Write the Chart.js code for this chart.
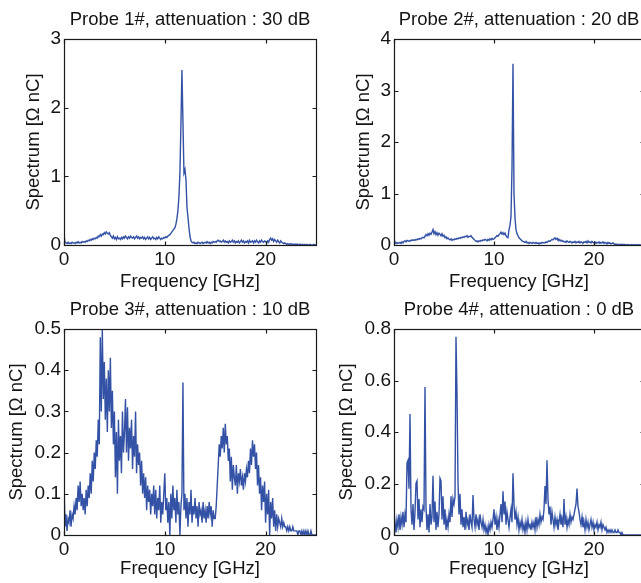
<!DOCTYPE html>
<html>
<head>
<meta charset="utf-8">
<script src="https://cdn.jsdelivr.net/npm/chart.js@4.4.1/dist/chart.umd.min.js"></script>
<style>
  html, body { margin: 0; padding: 0; background: #fff; overflow: hidden; width: 641px; height: 583px; }
  canvas { position: absolute; }
</style>
</head>
<body>
<canvas id="c1" width="325" height="300" style="left:0;top:0"></canvas>
<canvas id="c2" width="330" height="300" style="left:330px;top:0"></canvas>
<canvas id="c3" width="325" height="293" style="left:0;top:290px"></canvas>
<canvas id="c4" width="330" height="293" style="left:330px;top:290px"></canvas>
<script>
// frequency grid, GHz (0 to 25 in 0.1 steps)
const freq = Array.from({ length: 251 }, (_, i) => i / 10);

const titles = [
    'Probe 1#, attenuation : 30 dB',
    'Probe 2#, attenuation : 20 dB',
    'Probe 3#, attenuation : 10 dB',
    'Probe 4#, attenuation : 0 dB'
];

const xTicks = [0, 10, 20];
const xMax = 25;
const yTicks1 = [0, 1, 2, 3];
const yTicks2 = [0, 1, 2, 3, 4];
const yTicks3 = [0, 0.1, 0.2, 0.3, 0.4, 0.5];
const yTicks4 = [0, 0.2, 0.4, 0.6, 0.8];

// spectrum values, Ohm nC, one row per GHz
const probe1 = [
    0.15,0.04,0.03,0.02,0.04,0.02,0.03,0.02,0.04,0.03,
    0.03,0.02,0.04,0.03,0.05,0.03,0.04,0.03,0.05,0.04,
    0.05,0.04,0.06,0.05,0.07,0.06,0.08,0.07,0.09,0.08,
    0.10,0.09,0.11,0.10,0.13,0.12,0.15,0.13,0.16,0.15,
    0.18,0.16,0.19,0.17,0.16,0.18,0.14,0.12,0.10,0.13,
    0.09,0.11,0.08,0.12,0.09,0.10,0.08,0.11,0.09,0.12,
    0.10,0.13,0.11,0.09,0.12,0.10,0.13,0.11,0.10,0.12,
    0.09,0.11,0.13,0.10,0.12,0.09,0.11,0.10,0.12,0.09,
    0.11,0.08,0.10,0.12,0.09,0.11,0.08,0.10,0.12,0.09,
    0.10,0.08,0.11,0.09,0.12,0.10,0.08,0.10,0.09,0.11,
    0.10,0.12,0.11,0.13,0.14,0.15,0.17,0.19,0.21,0.23,
    0.25,0.30,0.38,0.50,0.70,1.05,1.75,2.55,1.80,1.05,
    1.10,0.95,0.55,0.40,0.25,0.12,0.06,0.04,0.03,0.04,
    0.02,0.03,0.02,0.04,0.03,0.02,0.03,0.04,0.02,0.03,
    0.04,0.03,0.05,0.03,0.04,0.02,0.04,0.03,0.05,0.04,
    0.05,0.04,0.06,0.07,0.05,0.06,0.04,0.05,0.07,0.04,
    0.06,0.04,0.05,0.03,0.06,0.04,0.05,0.07,0.04,0.06,
    0.03,0.05,0.04,0.06,0.03,0.05,0.07,0.04,0.06,0.03,
    0.05,0.04,0.06,0.03,0.07,0.04,0.05,0.06,0.03,0.06,
    0.04,0.07,0.05,0.03,0.06,0.04,0.07,0.05,0.04,0.06,
    0.05,0.03,0.06,0.04,0.08,0.10,0.07,0.09,0.05,0.08,
    0.06,0.04,0.07,0.05,0.03,0.06,0.04,0.03,0.02,0.03,
    0.02,0.01,0.02,0.01,0.01,0.02,0.01,0.01,0.01,0.01,
    0.01,0.01,0.01,0.00,0.01,0.01,0.00,0.01,0.00,0.01,
    0.00,0.01,0.00,0.00,0.01,0.00,0.00,0.00,0.01,0.00,
    0.00
];

const probe2 = [
    0.15,0.04,0.03,0.05,0.03,0.04,0.05,0.03,0.06,0.04,
    0.07,0.08,0.06,0.09,0.08,0.07,0.09,0.08,0.10,0.09,
    0.10,0.09,0.11,0.10,0.12,0.11,0.13,0.12,0.14,0.15,
    0.14,0.17,0.20,0.18,0.22,0.19,0.23,0.21,0.25,0.30,
    0.22,0.26,0.20,0.24,0.19,0.23,0.21,0.18,0.22,0.17,
    0.19,0.14,0.16,0.12,0.14,0.11,0.10,0.12,0.09,0.11,
    0.10,0.12,0.11,0.13,0.12,0.14,0.13,0.15,0.14,0.16,
    0.15,0.17,0.16,0.18,0.15,0.17,0.16,0.18,0.15,0.13,
    0.11,0.09,0.07,0.08,0.06,0.08,0.07,0.09,0.08,0.10,
    0.09,0.11,0.10,0.08,0.11,0.09,0.12,0.10,0.13,0.11,
    0.12,0.14,0.16,0.18,0.17,0.20,0.22,0.25,0.21,0.24,
    0.20,0.23,0.18,0.15,0.14,0.30,0.38,0.55,1.50,3.52,
    1.00,0.52,0.30,0.22,0.18,0.14,0.12,0.10,0.08,0.07,
    0.06,0.05,0.07,0.04,0.05,0.03,0.05,0.04,0.03,0.05,
    0.04,0.03,0.05,0.03,0.04,0.02,0.04,0.03,0.05,0.04,
    0.05,0.04,0.06,0.05,0.07,0.08,0.07,0.09,0.11,0.10,
    0.12,0.14,0.11,0.13,0.10,0.11,0.08,0.09,0.07,0.08,
    0.06,0.07,0.05,0.08,0.06,0.05,0.07,0.06,0.04,0.06,
    0.05,0.07,0.04,0.06,0.05,0.07,0.04,0.06,0.05,0.04,
    0.06,0.05,0.07,0.04,0.08,0.05,0.06,0.04,0.07,0.05,
    0.04,0.06,0.03,0.05,0.04,0.06,0.03,0.05,0.04,0.06,
    0.03,0.05,0.04,0.02,0.05,0.03,0.04,0.02,0.03,0.04,
    0.02,0.01,0.02,0.01,0.01,0.01,0.01,0.01,0.01,0.01,
    0.01,0.01,0.00,0.01,0.00,0.01,0.00,0.00,0.01,0.00,
    0.00,0.01,0.00,0.00,0.01,0.00,0.00,0.00,0.00,0.00,
    0.00
];

const probe3 = [
    0.13,0.02,0.05,0.01,0.04,0.03,0.06,0.02,0.05,0.04,
    0.07,0.05,0.09,0.06,0.12,0.08,0.13,0.07,0.10,0.06,
    0.09,0.05,0.11,0.07,0.12,0.09,0.15,0.10,0.18,0.13,
    0.20,0.16,0.23,0.19,0.28,0.22,0.48,0.30,0.50,0.33,
    0.42,0.28,0.38,0.25,0.40,0.30,0.43,0.26,0.35,0.22,
    0.30,0.14,0.25,0.10,0.28,0.18,0.24,0.15,0.30,0.20,
    0.25,0.33,0.20,0.31,0.18,0.26,0.21,0.28,0.16,0.24,
    0.19,0.30,0.15,0.22,0.17,0.20,0.12,0.18,0.10,0.15,
    0.09,0.14,0.06,0.12,0.08,0.11,0.05,0.10,0.07,0.12,
    0.05,0.11,0.04,0.09,0.06,0.12,0.03,0.08,0.05,0.10,
    0.15,0.06,0.09,0.03,0.08,0.00,0.10,0.04,0.12,0.06,
    0.09,0.03,0.11,0.05,0.08,0.00,0.07,0.10,0.37,0.06,
    0.10,0.04,0.09,0.02,0.08,0.05,0.11,0.03,0.07,0.05,
    0.09,0.04,0.07,0.02,0.08,0.05,0.06,0.03,0.08,0.04,
    0.06,0.03,0.07,0.04,0.08,0.05,0.07,0.02,0.06,0.04,
    0.04,0.07,0.12,0.17,0.22,0.19,0.24,0.21,0.26,0.20,
    0.27,0.22,0.24,0.18,0.21,0.13,0.19,0.11,0.17,0.14,
    0.12,0.17,0.10,0.15,0.13,0.16,0.12,0.14,0.11,0.15,
    0.13,0.16,0.14,0.18,0.15,0.21,0.17,0.23,0.19,0.22,
    0.16,0.20,0.12,0.17,0.10,0.14,0.06,0.12,0.08,0.13,
    0.03,0.10,0.05,0.11,0.00,0.08,0.04,0.09,0.02,0.06,
    0.01,0.05,0.02,0.04,0.03,0.02,0.04,0.02,0.03,0.02,
    0.02,0.01,0.02,0.01,0.02,0.01,0.01,0.02,0.01,0.01,
    0.01,0.01,0.00,0.01,0.01,0.00,0.01,0.00,0.01,0.00,
    0.01,0.00,0.01,0.00,0.00,0.01,0.00,0.00,0.00,0.00,
    0.00
];

const probe4 = [
    0.02,0.05,0.01,0.06,0.03,0.08,0.02,0.07,0.04,0.09,
    0.03,0.08,0.05,0.28,0.29,0.18,0.47,0.10,0.04,0.12,
    0.02,0.09,0.20,0.21,0.06,0.14,0.03,0.10,0.05,0.11,
    0.10,0.575,0.11,0.02,0.08,0.01,0.12,0.04,0.07,0.23,
    0.05,0.13,0.02,0.09,0.03,0.08,0.22,0.21,0.06,0.15,
    0.04,0.10,0.02,0.06,0.03,0.08,0.05,0.15,0.07,0.14,
    0.12,0.15,0.77,0.55,0.20,0.08,0.16,0.04,0.10,0.03,
    0.07,0.02,0.09,0.04,0.06,0.02,0.08,0.05,0.03,0.155,
    0.06,0.03,0.08,0.04,0.06,0.02,0.08,0.05,0.03,0.06,
    0.02,0.04,0.01,0.03,0.00,0.04,0.02,0.05,0.03,0.06,
    0.10,0.04,0.07,0.02,0.06,0.03,0.08,0.12,0.05,0.17,
    0.08,0.13,0.04,0.09,0.06,0.03,0.07,0.10,0.05,0.24,
    0.12,0.06,0.09,0.04,0.07,0.02,0.05,0.03,0.06,0.02,
    0.04,0.01,0.05,0.02,0.06,0.03,0.04,0.02,0.05,0.03,
    0.05,0.02,0.07,0.03,0.06,0.04,0.08,0.05,0.07,0.06,
    0.10,0.19,0.12,0.29,0.14,0.08,0.11,0.04,0.09,0.06,
    0.03,0.07,0.04,0.06,0.02,0.05,0.08,0.04,0.06,0.03,
    0.14,0.04,0.07,0.03,0.06,0.04,0.08,0.05,0.07,0.06,
    0.08,0.10,0.12,0.18,0.11,0.09,0.06,0.04,0.07,0.03,
    0.05,0.02,0.06,0.03,0.05,0.02,0.04,0.06,0.03,0.05,
    0.02,0.04,0.03,0.05,0.02,0.04,0.03,0.05,0.02,0.04,
    0.03,0.02,0.03,0.01,0.02,0.01,0.02,0.01,0.02,0.01,
    0.01,0.02,0.01,0.01,0.02,0.01,0.01,0.00,0.01,0.00,
    0,0,0,0,0,0,0,0,0,0,
    0,0,0,0,0,0,0,0,0,0,
    0
];

const lineColor = '#3352a6';
const textColor = '#141414';
const fontFamily = '"Liberation Sans", Arial, Helvetica, sans-serif';

// matlab style box with inward ticks on all four sides
const boxTicks = {
    id: 'boxTicks',
    afterDatasetsDraw(chart) {
        const { ctx, chartArea: a, scales: { x, y } } = chart;
        const L = Math.round(a.left) + 0.5, R = Math.round(a.right) + 0.5;
        const T = Math.round(a.top) + 0.5, B = Math.round(a.bottom) + 0.5;
        ctx.save();
        ctx.strokeStyle = '#1a1a1a';
        ctx.lineWidth = 1.2;
        ctx.strokeRect(L, T, R - L, B - T);
        ctx.beginPath();
        x.ticks.forEach(t => {
            const px = Math.round(x.getPixelForValue(t.value)) + 0.5;
            ctx.moveTo(px, B); ctx.lineTo(px, B - 4);
            ctx.moveTo(px, T); ctx.lineTo(px, T + 4);
        });
        y.ticks.forEach(t => {
            const py = Math.round(y.getPixelForValue(t.value)) + 0.5;
            ctx.moveTo(L, py); ctx.lineTo(L + 4, py);
            ctx.moveTo(R, py); ctx.lineTo(R - 4, py);
        });
        ctx.stroke();
        ctx.restore();
    }
};

function makeChart(id, title, values, yTicks, lay) {
    const canvas = document.getElementById(id);
    const points = freq.map((f, i) => ({ x: f, y: values[i] }));
    return new Chart(canvas.getContext('2d'), {
        type: 'line',
        data: {
            datasets: [{
                data: points,
                borderColor: lineColor,
                borderWidth: 1.4,
                pointRadius: 0,
                tension: 0,
                fill: false
            }]
        },
        options: {
            responsive: false,
            animation: false,
            events: [],
            layout: { padding: { left: 0, right: lay.padRight, top: 0, bottom: 0 } },
            plugins: {
                legend: { display: false },
                tooltip: { enabled: false },
                title: {
                    display: true,
                    text: title,
                    fullSize: false,
                    color: textColor,
                    font: { family: fontFamily, size: 18.5, weight: 'normal', lineHeight: 1.2 },
                    padding: { top: 8.5, bottom: 8.3 }
                }
            },
            scales: {
                x: {
                    type: 'linear',
                    min: 0,
                    max: xMax,
                    grid: { display: false, drawTicks: false },
                    border: { display: false },
                    afterBuildTicks: s => { s.ticks = xTicks.map(v => ({ value: v })); },
                    afterFit: s => { s.height = lay.xHeight; },
                    ticks: {
                        color: textColor,
                        padding: 3,
                        maxRotation: 0,
                        font: { family: fontFamily, size: 19 }
                    },
                    title: {
                        display: true,
                        text: 'Frequency [GHz]',
                        color: textColor,
                        font: { family: fontFamily, size: 18.5, lineHeight: 1.2 },
                        padding: { top: 0, bottom: lay.xTitlePad }
                    }
                },
                y: {
                    type: 'linear',
                    min: yTicks[0],
                    max: yTicks[yTicks.length - 1],
                    grid: { display: false, drawTicks: false },
                    border: { display: false },
                    afterBuildTicks: s => { s.ticks = yTicks.map(v => ({ value: v })); },
                    afterFit: s => { s.width = 64; },
                    ticks: {
                        color: textColor,
                        padding: 3,
                        font: { family: fontFamily, size: 19 },
                        callback: v => String(v)
                    },
                    title: {
                        display: true,
                        text: 'Spectrum [\u03A9 nC]',
                        color: textColor,
                        font: { family: fontFamily, size: 18.5, lineHeight: 1.2 },
                        padding: { top: lay.yTitlePad, bottom: 0 }
                    }
                }
            }
        },
        plugins: [boxTicks]
    });
}

makeChart('c1', titles[0], probe1, yTicks1, { padRight: 9, xHeight: 55, xTitlePad: 7, yTitlePad: 22.4 });
makeChart('c2', titles[1], probe2, yTicks2, { padRight: 16, xHeight: 55, xTitlePad: 7, yTitlePad: 22.4 });
makeChart('c3', titles[2], probe3, yTicks3, { padRight: 9, xHeight: 48, xTitlePad: 3, yTitlePad: 5.9 });
makeChart('c4', titles[3], probe4, yTicks4, { padRight: 16, xHeight: 48, xTitlePad: 3, yTitlePad: 5.4 });
</script>
</body>
</html>
